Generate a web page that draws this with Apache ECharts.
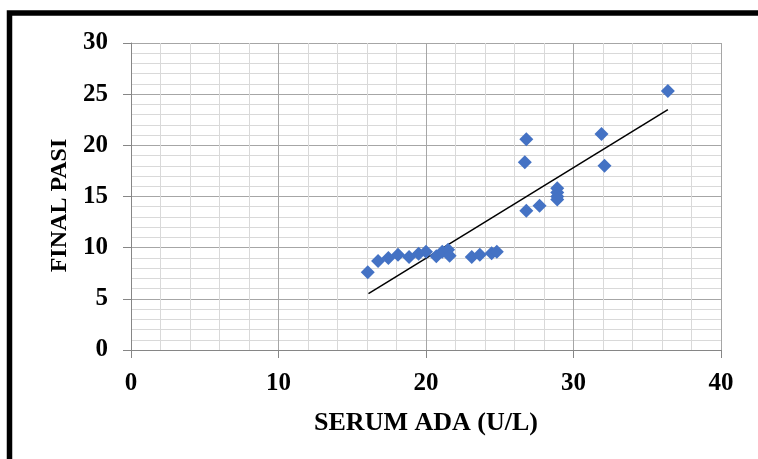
<!DOCTYPE html>
<html>
<head>
<meta charset="utf-8">
<script src="https://cdn.jsdelivr.net/npm/echarts@6/dist/echarts.min.js"></script>
<style>
html,body{margin:0;padding:0;background:#fff;}
#chart{width:758px;height:459px;}
</style>
</head>
<body>
<div id="chart"></div>
<script>
// Scatter data: Serum ADA (U/L) vs Final PASI
var serumADA = [16.05, 16.75, 17.45, 18.1, 18.85, 19.5, 20.0, 20.7, 21.1, 21.5, 21.6, 23.1, 23.65, 24.45, 24.8, 26.8, 26.7, 26.8, 27.7, 28.9, 28.9, 28.9, 28.9, 31.9, 32.1, 36.4];
var finalPASI = [7.6, 8.7, 9.0, 9.3, 9.1, 9.4, 9.6, 9.15, 9.6, 9.8, 9.2, 9.1, 9.3, 9.45, 9.6, 20.6, 18.35, 13.6, 14.1, 15.8, 15.4, 15.0, 14.7, 21.1, 18.0, 25.3];
// Linear trendline end points
var trendX = [16.1, 36.4];
var trendY = [5.5, 23.5];
var xTicks = [0, 10, 20, 30, 40];
var yTicks = [0, 5, 10, 15, 20, 25, 30];

var points = serumADA.map(function (x, i) { return [x, finalPASI[i]]; });
var trend = trendX.map(function (x, i) { return [x, trendY[i]]; });

var font = 'Liberation Serif';
var chart = echarts.init(document.getElementById('chart'), null, {renderer: 'canvas'});
chart.setOption({
  animation: false,
  backgroundColor: '#ffffff',
  graphic: [{
    type: 'rect',
    shape: {x: 9.5, y: 13, width: 820, height: 520},
    style: {fill: 'none', stroke: '#000', lineWidth: 5.5},
    z: 100
  }],
  grid: {left: 131, top: 43, width: 590, height: 307},
  xAxis: {
    type: 'value', min: xTicks[0], max: xTicks[xTicks.length - 1], interval: 10,
    name: 'SERUM ADA (U/L)', nameLocation: 'middle', nameGap: 60,
    nameTextStyle: {fontFamily: font, fontWeight: 'bold', fontSize: 26, color: '#000'},
    axisLine: {show: true, lineStyle: {color: '#868686', width: 1}},
    axisTick: {show: true, length: 8, lineStyle: {color: '#868686'}},
    axisLabel: {fontFamily: font, fontWeight: 'bold', fontSize: 25, color: '#000', margin: 21},
    splitLine: {show: true, lineStyle: {color: '#a6a6a6', width: 1}},
    minorTick: {show: false, splitNumber: 5},
    minorSplitLine: {show: true, lineStyle: {color: '#d9d9d9', width: 1}}
  },
  yAxis: {
    type: 'value', min: yTicks[0], max: yTicks[yTicks.length - 1], interval: 5,
    name: 'FINAL PASI', nameLocation: 'middle', nameGap: 58,
    nameTextStyle: {fontFamily: font, fontWeight: 'bold', fontSize: 24, color: '#000', padding: [0, 18, 0, 0]},
    axisLine: {show: true, lineStyle: {color: '#868686', width: 1}},
    axisTick: {show: true, length: 8, lineStyle: {color: '#868686'}},
    axisLabel: {fontFamily: font, fontWeight: 'bold', fontSize: 25, color: '#000', margin: 23},
    splitLine: {show: true, lineStyle: {color: '#a6a6a6', width: 1}},
    minorTick: {show: false, splitNumber: 5},
    minorSplitLine: {show: true, lineStyle: {color: '#d9d9d9', width: 1}}
  },
  series: [{
    type: 'scatter',
    data: points,
    symbol: 'diamond',
    symbolSize: 14,
    itemStyle: {color: '#4472c4', opacity: 1},
    z: 3
  }, {
    type: 'line',
    data: trend,
    symbol: 'none',
    lineStyle: {color: '#000', width: 1.5},
    z: 2
  }]
});
</script>
</body>
</html>
